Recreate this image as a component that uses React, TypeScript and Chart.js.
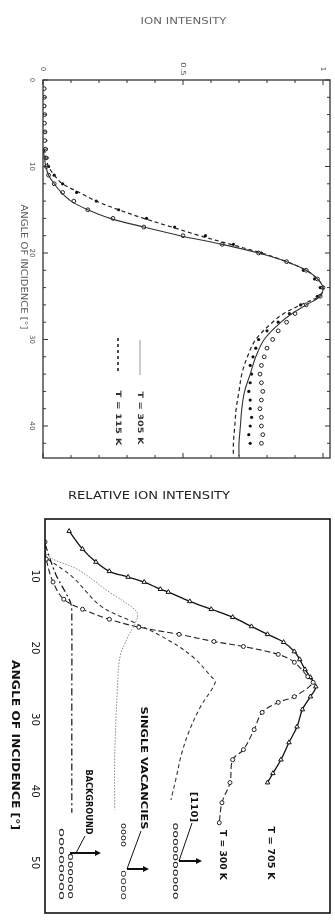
import React, { useEffect, useRef } from "react";
import { Chart, registerables } from "chart.js";

Chart.register(...registerables);

// ---------------- Upper panel: ion intensity vs angle (T = 305 K / 115 K) ----------------
const UP_FIT_ANGLE = [8, 9, 10, 11, 12, 13, 14, 15, 16, 17, 18, 19, 20, 21, 22, 23, 24, 25, 26, 27, 28, 30, 32, 34, 36, 38, 40, 42, 43.5];
const UP_FIT_305 = [0, 0.005, 0.01, 0.02, 0.04, 0.065, 0.1, 0.16, 0.24, 0.36, 0.49, 0.64, 0.77, 0.87, 0.94, 0.98, 1.0, 0.99, 0.94, 0.89, 0.85, 0.79, 0.76, 0.74, 0.72, 0.71, 0.705, 0.7, 0.7];
const UP_FIT_115 = [0.005, 0.01, 0.02, 0.04, 0.07, 0.13, 0.19, 0.27, 0.36, 0.46, 0.56, 0.67, 0.78, 0.87, 0.94, 0.98, 1.0, 0.985, 0.92, 0.86, 0.82, 0.76, 0.73, 0.71, 0.7, 0.69, 0.685, 0.68, 0.68];

const UP_PT_ANGLE = [1, 2, 3, 4, 5, 6, 7, 8, 9, 10, 11, 12, 13, 14, 15, 16, 17, 18, 19, 20, 21, 22, 23, 24, 25, 26, 27, 28, 29, 30, 31, 32, 33, 34, 35, 36, 37, 38, 39, 40, 41, 42];
const UP_PT_305 = [0.004, 0.005, 0.004, 0.006, 0.005, 0.007, 0.006, 0.008, 0.01, 0.012, 0.02, 0.04, 0.07, 0.11, 0.16, 0.25, 0.36, 0.5, 0.64, 0.77, 0.87, 0.94, 0.98, 1.0, 0.99, 0.94, 0.9, 0.87, 0.84, 0.82, 0.8, 0.79, 0.78, 0.775, 0.78, 0.785, 0.78, 0.775, 0.78, 0.78, 0.785, 0.78];
const UP_PT_115 = [0.006, 0.007, 0.006, 0.008, 0.007, 0.009, 0.01, 0.012, 0.015, 0.02, 0.04, 0.07, 0.12, 0.19, 0.27, 0.37, 0.47, 0.58, 0.68, 0.78, 0.87, 0.93, 0.97, 0.99, 0.98, 0.92, 0.88, 0.84, 0.8, 0.77, 0.76, 0.75, 0.74, 0.745, 0.74, 0.735, 0.74, 0.74, 0.745, 0.74, 0.735, 0.74];

const UP_INT_TICKS = [0, 0.5, 1];
const UP_INT_LABELS = ["0", "0.5", "1"];
const UP_ANGLE_TICKS = [0, 10, 20, 30, 40];
const UP_ANGLE_LABELS = ["0", "10", "20", "30", "40"];
const UP_LEGEND = ["T = 115 K", "T = 305 K"];

// ---------------- Lower panel: relative ion intensity vs angle ----------------
const LO_705_ANGLE = [3.7, 6.2, 8.0, 9.3, 10.1, 10.8, 11.8, 12.2, 13.5, 14.6, 15.7, 17.0, 18.1, 19.2, 20.5, 21.6, 23.0, 24.1, 25.4, 26.8, 28.6, 31.0, 33.2, 35.6, 37.5, 38.8];
const LO_705_INT = [0.09, 0.14, 0.19, 0.24, 0.31, 0.37, 0.43, 0.46, 0.54, 0.62, 0.7, 0.77, 0.83, 0.89, 0.93, 0.95, 0.97, 0.99, 1.01, 0.99, 0.96, 0.94, 0.91, 0.88, 0.85, 0.83];

const LO_300_ANGLE = [5.2, 7.6, 10.8, 13.2, 14.6, 16.0, 17.1, 18.1, 19.1, 19.8, 20.9, 22.0, 24.0, 24.8, 26.8, 27.6, 29.0, 31.4, 34.2, 35.6, 38.8, 41.6, 44.4];
const LO_300_INT = [0.0, 0.005, 0.03, 0.07, 0.14, 0.24, 0.35, 0.5, 0.63, 0.74, 0.87, 0.93, 0.98, 1.0, 0.93, 0.87, 0.81, 0.78, 0.74, 0.7, 0.69, 0.66, 0.65];

const LO_110_ANGLE = [7.6, 10.0, 14.2, 16.4, 18.8, 21.2, 24.0, 24.8, 28.2, 31.4, 34.7, 38.0, 41.2];
const LO_110_INT = [0.01, 0.1, 0.21, 0.33, 0.455, 0.55, 0.62, 0.635, 0.58, 0.54, 0.51, 0.49, 0.47];

const LO_SV_ANGLE = [6.6, 7.6, 9.0, 12.2, 14.2, 15.2, 16.7, 18.4, 21.2, 25.8, 35.0, 42.6];
const LO_SV_INT = [0.0, 0.03, 0.12, 0.24, 0.32, 0.345, 0.335, 0.31, 0.28, 0.27, 0.26, 0.26];

const LO_BG_ANGLE = [5.5, 9.7, 12.5, 13.9, 16.0, 27.2, 43.0];
const LO_BG_INT = [0.0, 0.04, 0.08, 0.097, 0.1, 0.1, 0.1];

const LO_ANGLE_TICKS = [10, 20, 30, 40, 50];
const LO_ANGLE_LABELS = ["10", "20", "30", "40", "50"];

const FONT = '"DejaVu Sans", "Liberation Sans", sans-serif';

function pts(xs: number[], ys: number[]) {
  return xs.map((a, i) => ({ x: ys[i], y: a }));
}

function drawText(
  ctx: CanvasRenderingContext2D,
  text: string,
  cx: number,
  cy: number,
  len: number,
  size: number,
  color: string,
  rot: boolean,
  weight = "normal"
) {
  ctx.save();
  ctx.translate(cx, cy);
  if (rot) ctx.rotate(Math.PI / 2);
  ctx.font = `${weight} ${size}px ${FONT}`;
  const w = ctx.measureText(text).width;
  if (len > 0 && w > 0) ctx.scale(len / w, 1);
  ctx.fillStyle = color;
  ctx.textAlign = "center";
  ctx.textBaseline = "middle";
  ctx.fillText(text, 0, 0);
  ctx.restore();
}

function seg(ctx: CanvasRenderingContext2D, x1: number, y1: number, x2: number, y2: number) {
  ctx.beginPath();
  ctx.moveTo(x1, y1);
  ctx.lineTo(x2, y2);
  ctx.stroke();
}

function arrow(ctx: CanvasRenderingContext2D, x1: number, y: number, x2: number) {
  ctx.save();
  ctx.strokeStyle = "#111";
  ctx.fillStyle = "#111";
  ctx.lineWidth = 2;
  seg(ctx, x1, y, x2 - 4, y);
  ctx.beginPath();
  ctx.moveTo(x2, y);
  ctx.lineTo(x2 - 6, y - 3);
  ctx.lineTo(x2 - 6, y + 3);
  ctx.closePath();
  ctx.fill();
  ctx.restore();
}

const upperDecor = {
  id: "upperDecor",
  afterDraw(chart: any) {
    const { ctx, chartArea: a } = chart;
    const x = chart.scales.x;
    const y = chart.scales.y;
    ctx.save();
    ctx.strokeStyle = "#333";
    ctx.lineWidth = 1.3;
    ctx.strokeRect(a.left, a.top, a.right - a.left, a.bottom - a.top);
    ctx.lineWidth = 1;
    for (let v = 0; v <= 43; v += 2) {
      const py = y.getPixelForValue(v);
      const len = v % 10 === 0 ? 5 : 3;
      seg(ctx, a.left, py, a.left + len, py);
      seg(ctx, a.right, py, a.right - len, py);
    }
    for (let k = 0; k <= 10; k++) {
      const px = x.getPixelForValue(k / 10);
      const len = k % 5 === 0 ? 5 : 3;
      seg(ctx, px, a.top, px, a.top + len);
      seg(ctx, px, a.bottom, px, a.bottom - len);
    }
    // tick labels
    UP_INT_TICKS.forEach((v, i) => {
      const s = UP_INT_LABELS[i];
      drawText(ctx, s, x.getPixelForValue(v), a.top - 11, s.length * 4.5, 7, "#555", true);
    });
    UP_ANGLE_TICKS.forEach((v, i) => {
      const s = UP_ANGLE_LABELS[i];
      drawText(ctx, s, a.left - 11, y.getPixelForValue(v), s.length * 4.5, 7, "#555", true);
    });
    // titles
    drawText(ctx, "ION INTENSITY", (a.left + a.right) / 2 - 3, 22, 86, 8, "#666", false);
    drawText(ctx, "ANGLE OF INCIDENCE [°]", a.left - 20, 267, 125, 8, "#555", true);
    // legend
    ctx.strokeStyle = "#222";
    ctx.lineWidth = 1.6;
    ctx.setLineDash([3, 3]);
    seg(ctx, 118, 338, 118, 372);
    ctx.setLineDash([]);
    ctx.strokeStyle = "#999";
    ctx.lineWidth = 1;
    seg(ctx, 140, 340, 140, 375);
    drawText(ctx, UP_LEGEND[0], 118, 418, 55, 7.5, "#333", true, "bold");
    drawText(ctx, UP_LEGEND[1], 140, 418, 53, 7.5, "#333", true, "bold");
    ctx.restore();
  },
};

const OFF = 470; // top of lower canvas in page coordinates

const lowerDecor = {
  id: "lowerDecor",
  afterDraw(chart: any) {
    const { ctx, chartArea: a } = chart;
    const y = chart.scales.y;
    ctx.save();
    ctx.strokeStyle = "#111";
    ctx.lineWidth = 1.6;
    ctx.strokeRect(a.left, a.top, a.right - a.left, a.bottom - a.top);
    LO_ANGLE_TICKS.forEach((v, i) => {
      drawText(ctx, LO_ANGLE_LABELS[i], a.left - 10, y.getPixelForValue(v), 13, 10, "#111", true);
    });
    drawText(ctx, "RELATIVE ION INTENSITY", 149, 496 - OFF, 162, 10, "#222", false);
    drawText(ctx, "ANGLE OF INCIDENCE [°]", 15, 745 - OFF, 170, 10, "#111", true, "bold");
    // curve labels
    drawText(ctx, "T = 705 K", 270, 853 - OFF, 53, 9, "#111", true, "bold");
    drawText(ctx, "T = 300 K", 222, 855 - OFF, 50, 9, "#111", true, "bold");
    drawText(ctx, "[110]", 193, 807 - OFF, 30, 9, "#111", true, "bold");
    drawText(ctx, "SINGLE VACANCIES", 143, 768 - OFF, 123, 9, "#111", true, "bold");
    drawText(ctx, "BACKGROUND", 88, 802 - OFF, 65, 9, "#111", true, "bold");
    // symbol rows
    drawText(ctx, "oooooooooo", 175, 861 - OFF, 77, 8, "#222", true);
    drawText(ctx, "oooo", 123, 835 - OFF, 24, 8, "#222", true);
    drawText(ctx, "oooo", 123, 885 - OFF, 30, 8, "#222", true);
    drawText(ctx, "oooooooo", 61, 864 - OFF, 72, 8, "#222", true);
    drawText(ctx, "oooooo", 70, 876 - OFF, 46, 8, "#222", true);
    // leaders and arrows
    ctx.strokeStyle = "#111";
    ctx.lineWidth = 1;
    seg(ctx, 85, 836 - OFF, 76, 853 - OFF);
    seg(ctx, 141, 831 - OFF, 127, 869 - OFF);
    seg(ctx, 192, 823 - OFF, 179, 861 - OFF);
    arrow(ctx, 70, 853 - OFF, 101);
    arrow(ctx, 127, 869 - OFF, 149);
    arrow(ctx, 179, 861 - OFF, 202);
    ctx.restore();
  },
};

function lineDs(data: any[], color: string, width: number, dash: number[]) {
  return {
    data,
    showLine: true,
    borderColor: color,
    borderWidth: width,
    borderDash: dash,
    pointRadius: 0,
    tension: 0.35,
    fill: false,
  };
}

export default function App() {
  const upRef = useRef<HTMLCanvasElement | null>(null);
  const loRef = useRef<HTMLCanvasElement | null>(null);

  useEffect(() => {
    const up = new Chart(upRef.current as HTMLCanvasElement, {
      type: "scatter",
      data: {
        datasets: [
          lineDs(pts(UP_FIT_ANGLE, UP_FIT_305), "#333", 1.1, []),
          lineDs(pts(UP_FIT_ANGLE, UP_FIT_115), "#222", 1.2, [4, 3]),
          {
            data: pts(UP_PT_ANGLE, UP_PT_305),
            pointRadius: 1.9,
            pointBorderWidth: 1,
            pointBorderColor: "#222",
            pointBackgroundColor: "#fff",
            showLine: false,
          },
          {
            data: pts(UP_PT_ANGLE, UP_PT_115),
            pointRadius: 1.6,
            pointBorderWidth: 0,
            pointBackgroundColor: "#111",
            showLine: false,
          },
        ] as any,
      },
      options: {
        responsive: false,
        animation: false,
        events: [],
        layout: { padding: { left: 43, right: 5, top: 80, bottom: 12 } },
        plugins: { legend: { display: false }, tooltip: { enabled: false } },
        scales: {
          x: { type: "linear", display: false, min: 0, max: 1.025 },
          y: { type: "linear", display: false, min: 0, max: 43.7, reverse: true },
        },
      } as any,
      plugins: [upperDecor],
    });

    const lo = new Chart(loRef.current as HTMLCanvasElement, {
      type: "scatter",
      data: {
        datasets: [
          lineDs(pts(LO_BG_ANGLE, LO_BG_INT), "#111", 1.2, [7, 3, 2, 3]),
          lineDs(pts(LO_SV_ANGLE, LO_SV_INT), "#888", 1, [1.5, 1.5]),
          lineDs(pts(LO_110_ANGLE, LO_110_INT), "#333", 1.1, [4, 3]),
          {
            ...lineDs(pts(LO_300_ANGLE, LO_300_INT), "#222", 1.1, [6, 3]),
            pointRadius: 2,
            pointStyle: "circle",
            pointBorderWidth: 1,
            pointBorderColor: "#222",
            pointBackgroundColor: "#fff",
          },
          {
            ...lineDs(pts(LO_705_ANGLE, LO_705_INT), "#111", 1.3, []),
            pointRadius: 2.6,
            pointStyle: "triangle",
            pointBorderWidth: 1,
            pointBorderColor: "#111",
            pointBackgroundColor: "#fff",
          },
        ] as any,
      },
      options: {
        responsive: false,
        animation: false,
        events: [],
        layout: { padding: { left: 45, right: 5, top: 49, bottom: 8 } },
        plugins: { legend: { display: false }, tooltip: { enabled: false } },
        scales: {
          x: { type: "linear", display: false, min: 0, max: 1.063 },
          y: { type: "linear", display: false, min: 2, max: 57, reverse: true },
        },
      } as any,
      plugins: [lowerDecor],
    });

    return () => {
      up.destroy();
      lo.destroy();
    };
  }, []);

  return (
    <div style={{ position: "absolute", left: 0, top: 0, width: 335, height: 921, background: "#fff" }}>
      <canvas ref={upRef} width={335} height={470} style={{ position: "absolute", left: 0, top: 0, display: "block" }} />
      <canvas ref={loRef} width={335} height={451} style={{ position: "absolute", left: 0, top: OFF, display: "block" }} />
    </div>
  );
}
